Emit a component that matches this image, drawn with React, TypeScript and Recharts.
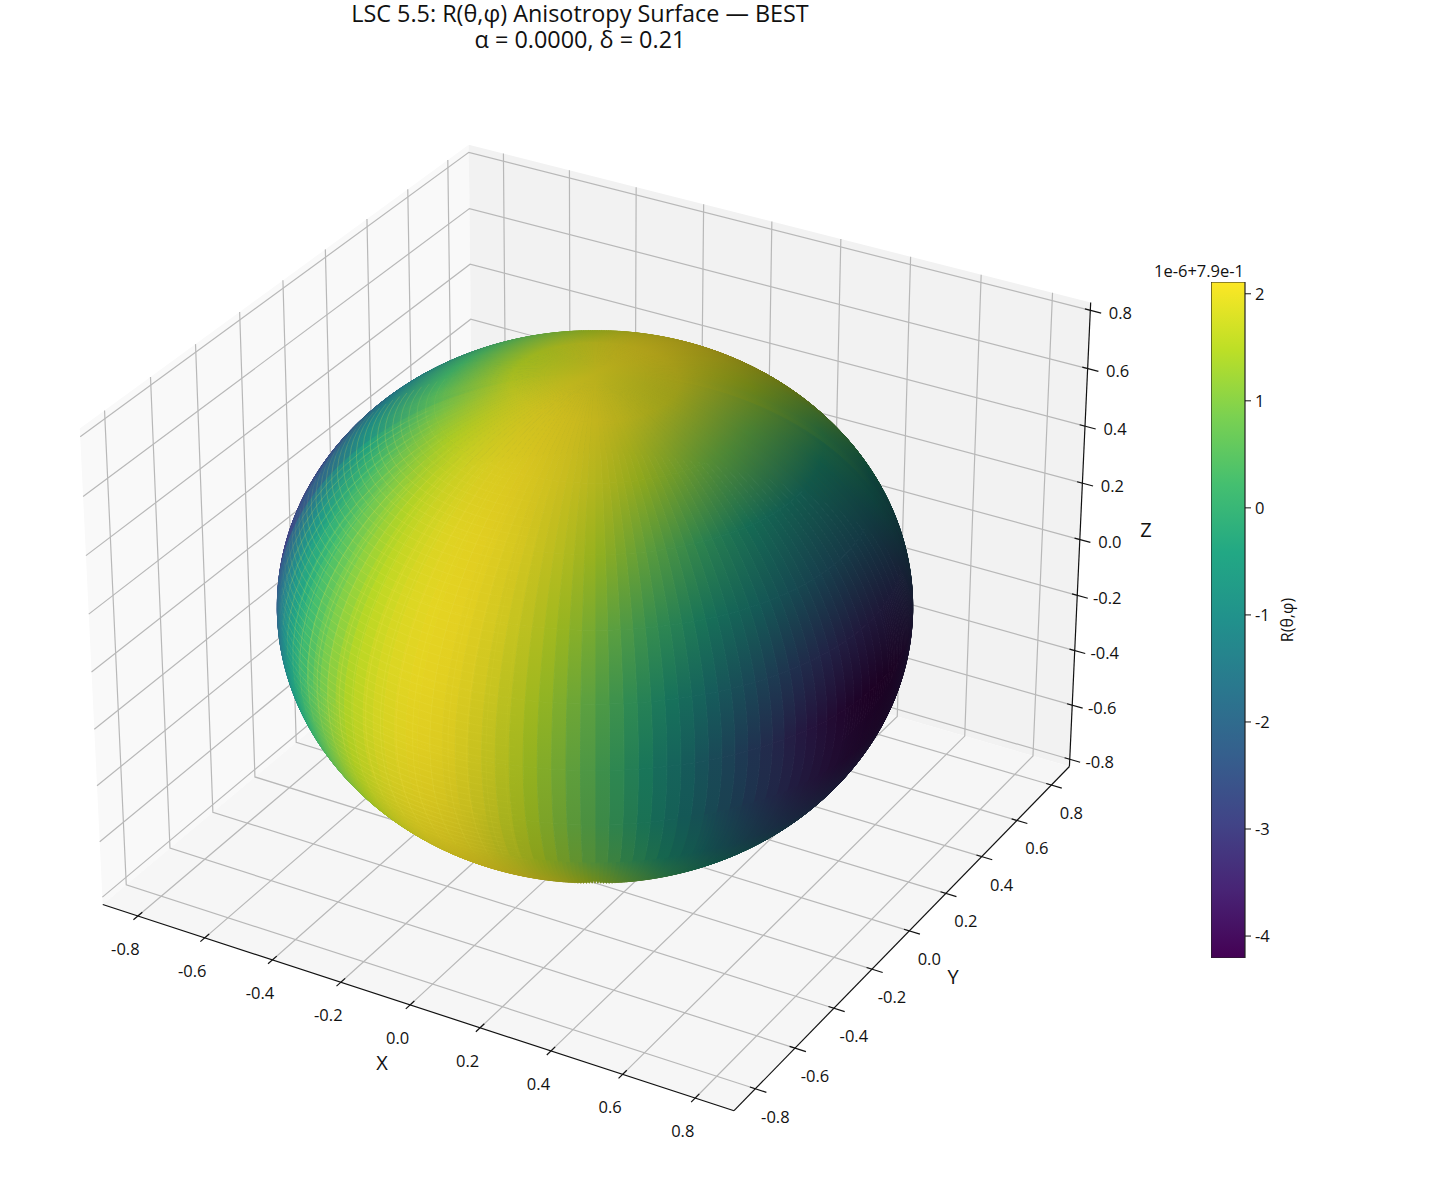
import React from "react";
import {
  ComposedChart,
  Scatter,
  XAxis,
  YAxis,
  ReferenceArea,
} from "recharts";

const FONT = '"Open Sans", "Noto Sans", sans-serif';

const TITLE_LINES = ["LSC 5.5: R(θ,φ) Anisotropy Surface — BEST", "α = 0.0000, δ = 0.21"];
const AXIS_TICKS = [-0.8, -0.6, -0.4, -0.2, 0.0, 0.2, 0.4, 0.6, 0.8];
const COLORBAR_TICKS = [2, 1, 0, -1, -2, -3, -4];
const COLOR_MIN = -4.205;
const COLOR_MAX = 2.11;
const SPHERE_RADIUS = 0.795;
const LIM_XY = 0.906;
const LIM_Z = 0.827;

// latitudes of the rows below, degrees
const LATS = [90, 75, 60, 45, 30, 15, 0, -15, -30, -45, -60, -75];

// R(θ,φ), in units of the colorbar (1e-6 + 7.9e-1)
// front strips: longitude -150..30 in 5 degree steps
const FRONT_START = -150;
const front90 = [2, 2, 2, 2, 2, 2, 2, 2, 2, 2, 2, 2, 2, 2, 2, 2, 2, 2, 2, 2, 2, 2, 2, 2, 2, 2, 2, 2, 2, 2, 2, 2, 2, 2, 2, 2];
const front75 = [1.65, 1.69, 1.74, 1.78, 1.83, 1.87, 1.92, 1.96, 2.0, 2.03, 2.06, 2.08, 2.09, 2.1, 2.1, 2.1, 2.08, 2.07, 2.05, 2.03, 2.0, 1.98, 1.95, 1.92, 1.9, 1.88, 1.86, 1.84, 1.83, 1.83, 1.83, 1.83, 1.84, 1.86, 1.88, 1.9];
const front60 = [0.73, 0.87, 1.03, 1.18, 1.33, 1.48, 1.62, 1.75, 1.86, 1.95, 2.02, 2.07, 2.1, 2.1, 2.07, 2.03, 1.97, 1.88, 1.79, 1.68, 1.56, 1.44, 1.32, 1.21, 1.1, 1.0, 0.92, 0.86, 0.82, 0.8, 0.8, 0.82, 0.86, 0.92, 1.0, 1.1];
const front45 = [-0.42, -0.15, 0.15, 0.44, 0.73, 1.01, 1.27, 1.51, 1.71, 1.87, 2.0, 2.07, 2.1, 2.08, 2.02, 1.9, 1.76, 1.57, 1.36, 1.13, 0.88, 0.63, 0.38, 0.14, -0.09, -0.28, -0.46, -0.58, -0.67, -0.71, -0.71, -0.67, -0.58, -0.46, -0.28, -0.09];
const front30 = [-1.49, -1.09, -0.68, -0.25, 0.17, 0.58, 0.96, 1.3, 1.58, 1.81, 1.98, 2.07, 2.1, 2.05, 1.94, 1.76, 1.51, 1.22, 0.89, 0.52, 0.2, -0.1, -0.4, -0.7, -0.9, -1.2, -1.45, -1.6, -1.75, -1.8, -1.8, -1.75, -1.6, -1.45, -1.2, -0.9];
const front15 = [-2.21, -1.71, -1.2, -0.69, -0.17, 0.32, 0.77, 1.17, 1.52, 1.79, 1.98, 2.08, 2.09, 2.02, 1.86, 1.62, 1.3, 0.92, 0.49, 0.05, -0.4, -0.8, -1.25, -1.65, -2.05, -2.45, -2.75, -3.0, -3.15, -3.25, -3.25, -3.15, -3.0, -2.75, -2.45, -2.05];
const front0 = [-2.37, -1.85, -1.31, -0.77, -0.23, 0.29, 0.76, 1.18, 1.53, 1.81, 1.99, 2.09, 2.09, 1.99, 1.81, 1.53, 1.18, 0.76, 0.29, -0.23, -0.77, -1.31, -1.85, -2.37, -2.85, -3.27, -3.62, -3.89, -4.07, -4.17, -4.17, -4.07, -3.89, -3.62, -3.27, -2.85];
const frontS15 = [-1.94, -1.46, -0.97, -0.47, 0.01, 0.49, 0.92, 1.3, 1.62, 1.86, 2.02, 2.09, 2.08, 1.98, 1.79, 1.52, 1.17, 0.77, 0.32, -0.17, -0.69, -1.2, -1.71, -2.21, -2.66, -3.06, -3.39, -3.65, -3.82, -3.91, -3.91, -3.82, -3.65, -3.39, -3.06, -2.66];
const frontS30 = [-1.01, -0.64, -0.26, 0.13, 0.52, 0.89, 1.22, 1.51, 1.76, 1.94, 2.05, 2.1, 2.07, 1.98, 1.81, 1.58, 1.3, 0.96, 0.58, 0.17, -0.25, -0.68, -1.09, -1.49, -1.86, -2.19, -2.46, -2.67, -2.81, -2.89, -2.89, -2.81, -2.67, -2.46, -2.19, -1.86];
const frontS45 = [0.14, 0.38, 0.63, 0.88, 1.13, 1.36, 1.57, 1.76, 1.9, 2.02, 2.08, 2.1, 2.1, 2.05, 2.0, 1.9, 1.75, 1.5, 1.2, 0.9, 0.55, 0.2, -0.1, -0.4, -0.67, -0.89, -1.08, -1.22, -1.32, -1.37, -1.37, -1.32, -1.22, -1.08, -0.89, -0.67];
const frontS60 = [1.21, 1.32, 1.44, 1.56, 1.68, 1.79, 1.88, 1.97, 2.03, 2.07, 2.1, 2.1, 2.1, 2.1, 2.1, 2.05, 2.0, 1.9, 1.75, 1.6, 1.4, 1.2, 0.87, 0.73, 0.6, 0.48, 0.38, 0.31, 0.26, 0.24, 0.24, 0.26, 0.31, 0.38, 0.48, 0.6];
const frontS75 = [1.9, 1.92, 1.95, 1.98, 2.0, 2.03, 2.05, 2.07, 2.08, 2.1, 2.1, 2.1, 2.1, 2.1, 2.1, 2.1, 2.08, 2.05, 2.0, 1.95, 1.9, 1.85, 1.8, 1.75, 1.7, 1.68, 1.65, 1.65, 1.65, 1.65, 1.65, 1.65, 1.65, 1.65, 1.68, 1.7];
const FRONT_ROWS = [front90, front75, front60, front45, front30, front15, front0, frontS15, frontS30, frontS45, frontS60, frontS75];

// back strips: longitude 30..210 in 10 degree steps, only seen near the pole and limbs
const BACK_START = 30;
const back90 = [2, 2, 2, 2, 2, 2, 2, 2, 2, 2, 2, 2, 2, 2, 2, 2, 2, 2];
const back75 = [1.94, 1.99, 2.04, 2.08, 2.1, 2.1, 2.07, 2.01, 1.94, 1.85, 1.76, 1.67, 1.59, 1.54, 1.51, 1.51, 1.54, 1.59];
const back60 = [1.26, 1.5, 1.73, 1.92, 2.05, 2.1, 2.05, 1.91, 1.68, 1.41, 1.1, 0.8, 0.54, 0.34, 0.24, 0.24, 0.34, 0.54];
const back45 = [0.26, 0.76, 1.25, 1.67, 1.97, 2.1, 2.04, 1.8, 1.39, 0.87, 0.29, -0.28, -0.79, -1.16, -1.35, -1.35, -1.16, -0.79];
const back30 = [-0.83, -0.06, 0.71, 1.37, 1.85, 2.08, 2.04, 1.71, 1.13, 0.38, -0.46, -1.29, -2.03, -2.58, -2.87, -2.87, -2.58, -2.03];
const back15 = [-1.7, -0.72, 0.26, 1.12, 1.75, 2.07, 2.04, 1.66, 0.98, 0.07, -0.94, -1.96, -2.86, -3.53, -3.88, -3.88, -3.53, -2.86];
const back0 = [-2.12, -1.04, 0.03, 0.98, 1.68, 2.05, 2.05, 1.68, 0.98, 0.03, -1.04, -2.12, -3.06, -3.77, -4.14, -4.14, -3.77, -3.06];
const BACK_ROWS = [back90, back75, back60, back45, back30, back15, back0];

const VIRIDIS = ["#440154", "#482475", "#414487", "#355f8d", "#2a788e", "#21918c", "#22a884", "#44bf70", "#7ad151", "#bddf26", "#fde725"];

const rad = (d: number) => (d * Math.PI) / 180;
const hexRgb = (h: string) => [1, 3, 5].map((i) => parseInt(h.slice(i, i + 2), 16));
const clamp01 = (t: number) => Math.min(1, Math.max(0, t));

function viridis(v: number, k = 1) {
  const t = clamp01((v - COLOR_MIN) / (COLOR_MAX - COLOR_MIN)) * 10;
  const i = Math.min(9, Math.floor(t));
  const a = hexRgb(VIRIDIS[i]);
  const b = hexRgb(VIRIDIS[i + 1]);
  const c = a.map((n, j) => Math.round((n + (b[j] - n) * (t - i)) * k));
  return `rgb(${c[0]},${c[1]},${c[2]})`;
}

// same camera as a mplot3d axes at elev 30, azim -60
const BOX = [1.1905, 1.1905, 0.8929];
const LIMS = [LIM_XY, LIM_XY, LIM_Z];
const U = [0.866, 0.5, 0];
const V = [-0.25, 0.433, 0.866];
const W = [0.433, -0.75, 0.5];
const DIST = 10;
const SCALE = 6075;
const CX = 595;
const CY = 604.5;
const dot = (a: number[], b: number[]) => a[0] * b[0] + a[1] * b[1] + a[2] * b[2];

function toBox(p: number[]) {
  return p.map((c, i) => ((c / LIMS[i]) * BOX[i]) / 2);
}
function project(p: number[]): [number, number] {
  const q = toBox(p);
  const d = DIST - dot(W, q);
  return [CX + (SCALE * dot(U, q)) / d, CY - (SCALE * dot(V, q)) / d];
}

type Pt = [number, number];

function spherePoint(lon: number, lat: number) {
  const c = Math.cos(rad(lat));
  return [
    SPHERE_RADIUS * c * Math.cos(rad(lon)),
    SPHERE_RADIUS * c * Math.sin(rad(lon)),
    SPHERE_RADIUS * Math.sin(rad(lat)),
  ];
}

// mplot3d face shading, light at azimuth 225, altitude 19.47
function shade(lon: number, lat: number) {
  const c = Math.cos(rad(lat));
  const n = [c * Math.cos(rad(lon)), c * Math.sin(rad(lon)), Math.sin(rad(lat))];
  const s = -0.667 * n[0] - 0.667 * n[1] + 0.333 * n[2];
  return 0.3 + 0.35 * (s + 1);
}

function facing(lon: number, lat: number) {
  const q = toBox(spherePoint(lon, lat));
  return dot(W, [q[0] / BOX[0] ** 2, q[1] / BOX[1] ** 2, q[2] / BOX[2] ** 2]);
}

// colour of a narrow sub-strip, blended with the next strip across so the bands stay fine
function blended(row: number[], s: number) {
  const pos = Math.min(row.length - 1, Math.max(0, s - 0.5));
  const i = Math.min(row.length - 2, Math.floor(pos));
  return row[i] + (row[i + 1] - row[i]) * (pos - i);
}

function stripCells(rows: number[][], lonStart: number, lonStep: number) {
  const cells: any[] = [];
  rows[0].forEach((_, col) => {
    const lon0 = lonStart + col * lonStep;
    const lon1 = lon0 + lonStep;
    for (let r = 0; r < rows.length - 1; r++) {
      const latA = LATS[r];
      const latB = LATS[r + 1];
      const corners = [lon0, lon1].flatMap((l) => [latA, latB].map((la) => facing(l, la)));
      if (Math.max(...corners) < -0.25) continue;
      // narrower slices near the limb keep the outline round
      const n = Math.round(lonStep / (Math.min(...corners) < 0.12 ? 0.8 : 2.5));
      for (let i = 0; i < n; i++) {
        const a = lon0 + (lonStep * i) / n;
        const b = a + lonStep / n;
        const mid = (a + b) / 2;
        const outline: Pt[] = [];
        for (let k = 0; k < 15; k++) outline.push(project(spherePoint(a, latA + ((latB - latA) * k) / 15)));
        outline.push(project(spherePoint(a, latB)));
        for (let k = 0; k < 15; k++) outline.push(project(spherePoint(b, latB + ((latA - latB) * k) / 15)));
        outline.push(project(spherePoint(b, latA)));
        const s = col + (i + 0.5) / n;
        const from = project(spherePoint(mid, latA));
        const to = project(spherePoint(mid, latB));
        const centre = project(spherePoint(mid, (latA + latB) / 2));
        cells.push({
          x: centre[0],
          y: centre[1],
          id: `c${lonStart}-${col}-${r}-${i}`,
          poly: outline,
          from,
          to,
          c0: viridis(blended(rows[r], s), shade(mid, latA)),
          c1: viridis(blended(rows[r + 1], s), shade(mid, latB)),
          depth: dot(W, toBox(spherePoint(mid, (latA + latB) / 2))),
        });
      }
    }
  });
  return cells;
}

const surfaceCells = [
  ...stripCells(BACK_ROWS, BACK_START, 10),
  ...stripCells(FRONT_ROWS, FRONT_START, 5),
].sort((a, b) => a.depth - b.depth);

function polyData(points3d: number[][], fill: string, stroke: string, width: number) {
  const pts = points3d.map(project);
  return { x: pts[0][0], y: pts[0][1], pts, fill, stroke, width };
}

const L = LIM_XY;
const Z = LIM_Z;
const panes = [
  polyData([[-L, -L, -Z], [-L, L, -Z], [-L, L, Z], [-L, -L, Z]], "#f9f9f9", "none", 0),
  polyData([[-L, L, -Z], [L, L, -Z], [L, L, Z], [-L, L, Z]], "#f2f2f2", "none", 0),
  polyData([[-L, -L, -Z], [L, -L, -Z], [L, L, -Z], [-L, L, -Z]], "#f6f6f6", "none", 0),
];

const GRID = "#b8b8b8";
const gridLines = AXIS_TICKS.flatMap((t) => [
  polyData([[t, -L, -Z], [t, L, -Z], [t, L, Z]], "none", GRID, 1.2),
  polyData([[L, t, -Z], [-L, t, -Z], [-L, t, Z]], "none", GRID, 1.2),
  polyData([[-L, -L, t], [-L, L, t], [L, L, t]], "none", GRID, 1.2),
]);

const axisLines = [
  polyData([[-L, -L, -Z], [L, -L, -Z]], "none", "#111", 1.2),
  polyData([[L, -L, -Z], [L, L, -Z]], "none", "#111", 1.2),
  polyData([[L, L, -Z], [L, L, Z]], "none", "#111", 1.2),
];

const tickMarks = AXIS_TICKS.flatMap((t) => [
  polyData([[t, -L + 0.02, -Z], [t, -L - 0.02, -Z]], "none", "#111", 1.2),
  polyData([[L - 0.015, t, -Z], [L + 0.03, t, -Z]], "none", "#111", 1.2),
  polyData([[L - 0.015, L, t], [L + 0.03, L, t]], "none", "#111", 1.2),
]);

// the faint mesh that shows through on the lit side, fading out towards its edges
function meshSegment(lonA: number, latA: number, lonB: number, latB: number) {
  if (facing(lonA, latA) < 0.07 || facing(lonB, latB) < 0.07) return null;
  const lon = (lonA + lonB) / 2;
  const lat = (latA + latB) / 2;
  const alpha =
    0.24 *
    clamp01((-70 - lon) / 28) *
    clamp01((64 - lat) / 14) *
    clamp01((lat + 46) / 16) *
    clamp01((facing(lon, lat) - 0.07) / 0.08);
  if (alpha < 0.02) return null;
  return polyData(
    [spherePoint(lonA, latA), spherePoint(lonB, latB)],
    "none",
    `rgba(236,226,80,${alpha.toFixed(3)})`,
    0.9
  );
}
const meshLines: any[] = [];
for (let lon = -147.6; lon <= -70; lon += 3.6) {
  for (let lat = 64; lat > -46; lat -= 5) meshLines.push(meshSegment(lon, lat, lon, lat - 5));
}
for (let lat = 62; lat >= -46; lat -= 1.8) {
  for (let lon = -170; lon < -70; lon += 4) meshLines.push(meshSegment(lon, lat, lon + 4, lat));
}
const meshData = meshLines.filter(Boolean);

function label(p3: number[], dx: number, dy: number, text: string) {
  const [x, y] = project(p3);
  return { x: x + dx, y: y + dy, lines: [text], size: 16.5 };
}
const fmt = (t: number) => t.toFixed(1);

const texts = [
  { x: 580, y: 13, lines: TITLE_LINES, size: 23.4 },
  { x: 382, y: 1062, lines: ["X"], size: 20 },
  { x: 953, y: 976, lines: ["Y"], size: 20 },
  { x: 1146, y: 529, lines: ["Z"], size: 20 },
  ...AXIS_TICKS.flatMap((t) => [
    label([t, -L, -Z], -12.5, 32, fmt(t)),
    label([L, t, -Z], 20, 27, fmt(t)),
    label([L, L, t], 30, 1.5, fmt(t)),
  ]),
];

function PolyShape(props: any) {
  const { cx, cy, payload } = props;
  const d = payload.pts
    .map((p: Pt) => `${cx + p[0] - payload.x},${cy + p[1] - payload.y}`)
    .join(" ");
  if (payload.fill === "none") {
    return <polyline points={d} fill="none" stroke={payload.stroke} strokeWidth={payload.width} />;
  }
  return <polygon points={d} fill={payload.fill} stroke="none" />;
}

function CellShape(props: any) {
  const { cx, cy, payload } = props;
  const ox = cx - payload.x;
  const oy = cy - payload.y;
  const d = payload.poly.map((p: Pt) => `${p[0] + ox},${p[1] + oy}`).join(" ");
  return (
    <g>
      <defs>
        <linearGradient
          id={payload.id}
          gradientUnits="userSpaceOnUse"
          x1={payload.from[0] + ox}
          y1={payload.from[1] + oy}
          x2={payload.to[0] + ox}
          y2={payload.to[1] + oy}
        >
          <stop offset="0" stopColor={payload.c0} />
          <stop offset="1" stopColor={payload.c1} />
        </linearGradient>
      </defs>
      <polygon points={d} fill={`url(#${payload.id})`} stroke={`url(#${payload.id})`} strokeWidth={0.9} />
    </g>
  );
}

function TextShape(props: any) {
  const { cx, cy, payload } = props;
  return (
    <text
      x={cx}
      y={cy}
      textAnchor="middle"
      dominantBaseline="central"
      fontFamily={FONT}
      fontSize={payload.size}
      fill="#111"
    >
      {payload.lines.map((line: string, i: number) => (
        <tspan key={line} x={cx} dy={i === 0 ? 0 : 26}>
          {line}
        </tspan>
      ))}
    </text>
  );
}

const colorbarData = [{ x: 0.5, y: 0 }];

export default function App() {
  return (
    <div style={{ position: "absolute", left: 0, top: 0, width: 1440, height: 1200, background: "#fff" }}>
      <ComposedChart width={1440} height={1200} margin={{ top: 0, right: 0, bottom: 0, left: 0 }}>
        <XAxis type="number" dataKey="x" domain={[0, 1440]} hide />
        <YAxis type="number" dataKey="y" domain={[0, 1200]} reversed hide />
        <Scatter data={panes} shape={PolyShape} isAnimationActive={false} />
        <Scatter data={gridLines} shape={PolyShape} isAnimationActive={false} />
        <Scatter data={axisLines} shape={PolyShape} isAnimationActive={false} />
        <Scatter data={tickMarks} shape={PolyShape} isAnimationActive={false} />
        <Scatter data={surfaceCells} shape={CellShape} isAnimationActive={false} />
        <Scatter data={meshData} shape={PolyShape} isAnimationActive={false} />
        <Scatter data={texts} shape={TextShape} isAnimationActive={false} />
      </ComposedChart>

      <div style={{ position: "absolute", left: 1211, top: 282 }}>
        <ComposedChart
          width={100}
          height={676}
          margin={{ top: 0, right: 0, bottom: 0, left: 0 }}
        >
          <defs>
            <linearGradient id="cbar" x1="0" y1="1" x2="0" y2="0">
              {VIRIDIS.map((c, i) => (
                <stop key={c} offset={`${i * 10}%`} stopColor={c} />
              ))}
            </linearGradient>
          </defs>
          <XAxis type="number" dataKey="x" domain={[0, 1]} hide />
          <YAxis
            orientation="right"
            type="number"
            dataKey="y"
            domain={[COLOR_MIN, COLOR_MAX]}
            ticks={COLORBAR_TICKS}
            width={66}
            axisLine={false}
            tickSize={6}
            tickMargin={4}
            tickLine={{ stroke: "#111" }}
            tick={{ fontSize: 16.5, fill: "#111", fontFamily: FONT }}
            interval={0}
            label={{
              value: "R(θ,φ)",
              angle: -90,
              position: "insideRight",
              offset: 24,
              style: { fontSize: 16, fill: "#111", fontFamily: FONT, textAnchor: "middle" },
            }}
          />
          <Scatter data={colorbarData} shape={() => null} isAnimationActive={false} />
          <ReferenceArea
            x1={0}
            x2={1}
            y1={COLOR_MIN}
            y2={COLOR_MAX}
            fill="url(#cbar)"
            fillOpacity={1}
            stroke="#222"
            strokeWidth={1.2}
            ifOverflow="visible"
          />
        </ComposedChart>
      </div>
      <div
        style={{
          position: "absolute",
          left: 1120,
          top: 260,
          width: 158,
          textAlign: "center",
          fontFamily: FONT,
          fontSize: 16.5,
          lineHeight: "22px",
          color: "#111",
        }}
      >
        1e-6+7.9e-1
      </div>
    </div>
  );
}
